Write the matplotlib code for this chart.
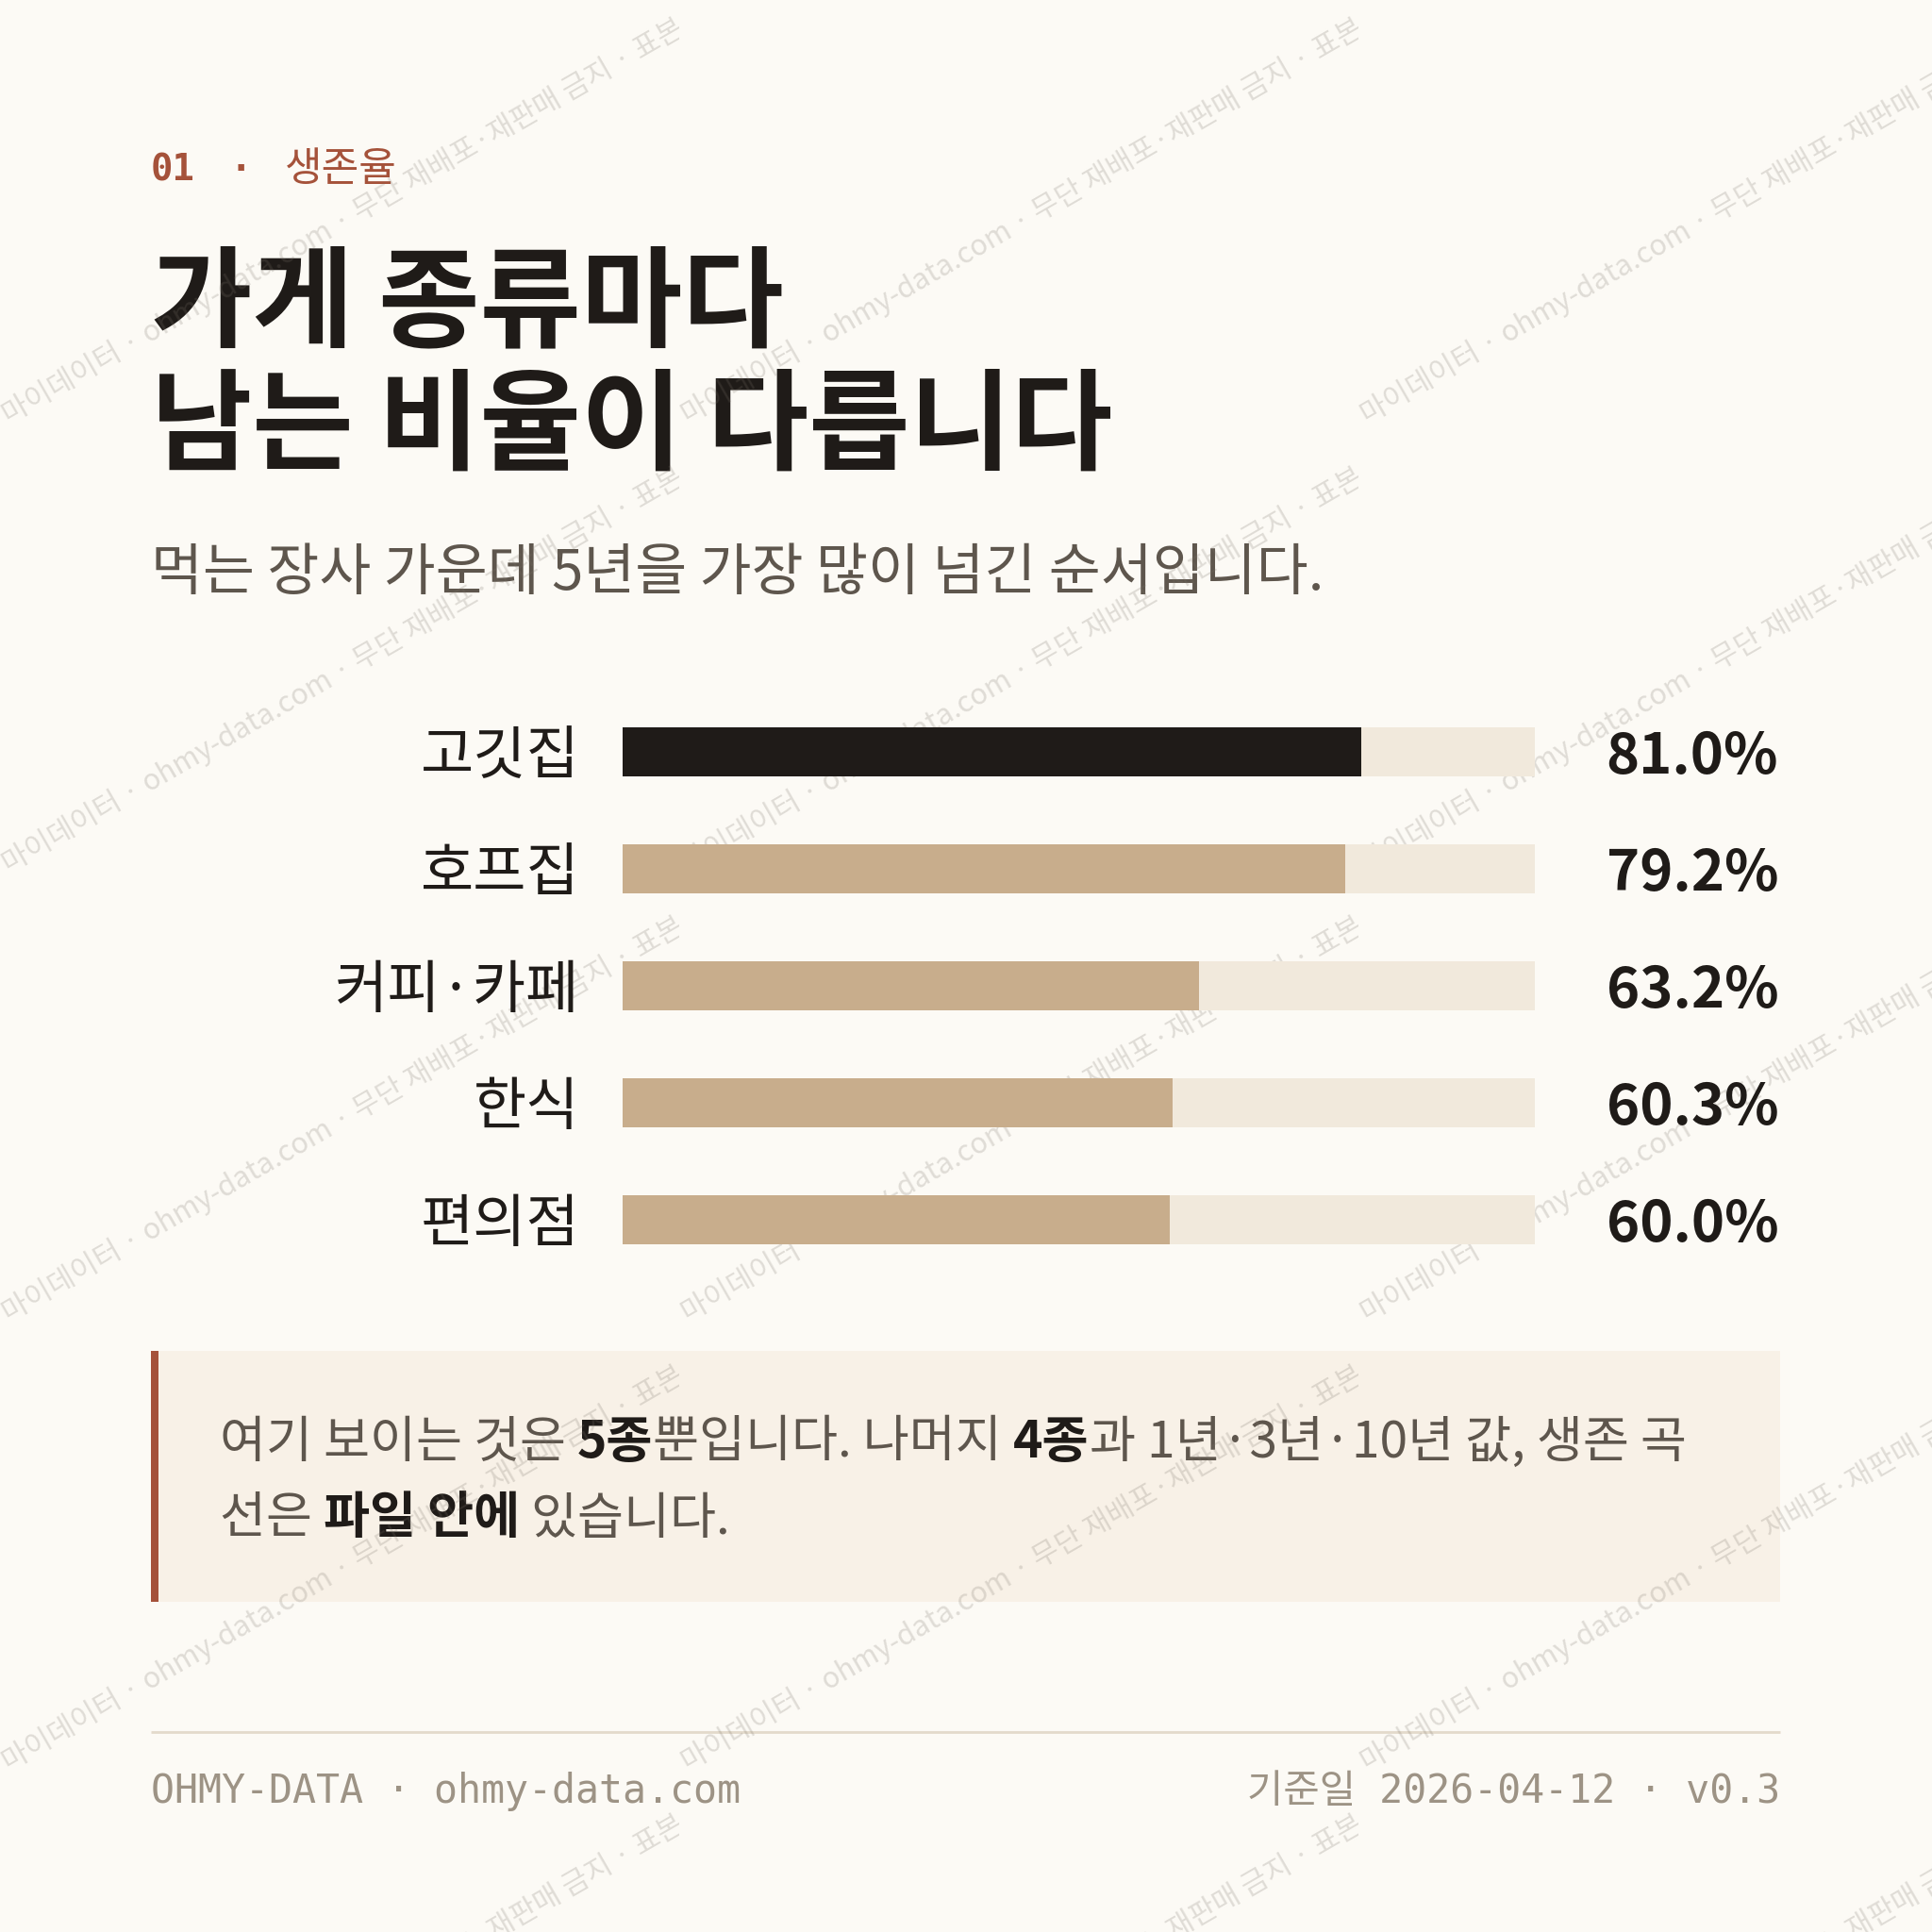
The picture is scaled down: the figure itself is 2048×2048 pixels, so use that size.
import matplotlib.pyplot as plt
from matplotlib.patches import Rectangle
from matplotlib.transforms import Bbox, TransformedBbox

# ---- data ----
categories = ['고깃집', '호프집', '커피·카페', '한식', '편의점']
survival_5y = [81.0, 79.2, 63.2, 60.3, 60.0]
highlight = [True, False, False, False, False]

eyebrow_num = '01'
eyebrow_txt = '생존율'
title_lines = ['가게 종류마다', '남는 비율이 다릅니다']
subtitle = '먹는 장사 가운데 5년을 가장 많이 넘긴 순서입니다.'
note_lines = [
    [('여기 보이는 것은 ', False), ('5종', True), ('뿐입니다. 나머지 ', False),
     ('4종', True), ('과 1년·3년·10년 값, 생존 곡', False)],
    [('선은 ', False), ('파일 안에', True), (' 있습니다.', False)],
]
footer_left = 'OHMY-DATA · ohmy-data.com'
footer_right = '기준일 2026-04-12 · v0.3'
watermark = '· 마이데이터 · ohmy-data.com · 무단 재배포·재판매 금지 · 표본 데이터'

# ---- style ----
BG = '#fcfaf5'
DARK = '#1f1b18'
GRAY = '#5e564d'
RUST = '#a5523a'
TAN = '#c8ad8c'
TRACK = '#f1e9dc'
BOX = '#f8f1e7'
FOOT = '#9d9385'
KR = ['Noto Sans CJK KR', 'DejaVu Sans']
MONO = ['DejaVu Sans Mono', 'Noto Sans CJK KR']

fig = plt.figure(figsize=(10.24, 10.24), dpi=200, facecolor=BG)
ax0 = fig.add_axes([0, 0, 1, 1])
ax0.set_xlim(0, 2048)
ax0.set_ylim(2048, 0)
ax0.axis('off')
renderer = fig.canvas.get_renderer()


def width_of(s, **kw):
    # trailing spaces are not counted by the text extent, so pad with a char
    t = ax0.text(0, 0, s + 'x', **kw)
    tx = ax0.text(0, 0, 'x', **kw)
    w = t.get_window_extent(renderer).width - tx.get_window_extent(renderer).width
    t.remove()
    tx.remove()
    return w


# header
ax0.text(160, 180, eyebrow_num, family=MONO, fontsize=14, weight='bold',
         color=RUST, va='center')
ax0.text(244, 180, '·', family=MONO, fontsize=14, weight='bold',
         color=RUST, va='center')
ax0.text(302, 180, eyebrow_txt, family=KR, fontsize=15.5, color=RUST,
         va='center')
ax0.text(160, 324, title_lines[0], family=KR, fontsize=42, weight='bold',
         color=DARK, va='center')
ax0.text(160, 455, title_lines[1], family=KR, fontsize=42, weight='bold',
         color=DARK, va='center')
ax0.text(160, 608, subtitle, family=KR, fontsize=21.5, color=GRAY, va='center')

# bars
ax = fig.add_axes([660 / 2048, 1 - 1355 / 2048, 967 / 2048, 620 / 2048])
ax.patch.set_alpha(0)
ax.set_xlim(0, 100)
ax.set_ylim(len(categories) - 0.5, -0.5)
ax.axis('off')
ypos = list(range(len(categories)))
ax.barh(ypos, [100] * len(categories), height=0.42, color=TRACK)
ax.barh(ypos, survival_5y, height=0.42,
        color=[DARK if h else TAN for h in highlight])
for i, (cat, v) in enumerate(zip(categories, survival_5y)):
    ax.text(-4.7, i + 0.05, cat, ha='right', va='center', family=KR,
            fontsize=22, color=DARK, clip_on=False)
    ax.text(126.7, i + 0.05, f'{v:.1f}%', ha='right', va='center', family=KR,
            fontsize=21.5, weight='bold', color=DARK, clip_on=False)

# note box
ax0.add_patch(Rectangle((160, 1432), 1727, 266, facecolor=BOX, edgecolor='none'))
ax0.add_patch(Rectangle((160, 1432), 8, 266, facecolor=RUST, edgecolor='none'))
for line, yy in zip(note_lines, [1529, 1610]):
    x = 233
    for s, bold in line:
        kw = dict(family=KR, fontsize=19.2, weight='bold' if bold else 'normal')
        ax0.text(x, yy, s, color=DARK if bold else GRAY, va='center', **kw)
        x += width_of(s, **kw)

# footer
ax0.plot([160, 1887], [1836, 1836], color='#e3dacb', lw=1.0,
         solid_capstyle='butt')
ax0.text(160, 1899, footer_left, family=MONO, fontsize=15, color=FOOT,
         va='center')
ax0.text(1887, 1899, footer_right, family=MONO, fontsize=15, color=FOOT,
         va='center', ha='right')

# watermark tiles
TW, TH = 720, 476
for ox in range(0, 2048, TW):
    for oy in range(0, 2048, TH):
        box = TransformedBbox(Bbox.from_extents(ox, oy, ox + TW, oy + TH),
                              ax0.transData)
        t = ax0.text(ox - 12, oy + 462, watermark, family=KR, fontsize=11,
                     color='#7a7268', alpha=0.22, rotation=30,
                     rotation_mode='anchor', ha='left', va='baseline',
                     zorder=10)
        t.set_clip_box(box)
        t.set_clip_on(True)

fig.savefig('out.png', dpi=200, facecolor=BG)
